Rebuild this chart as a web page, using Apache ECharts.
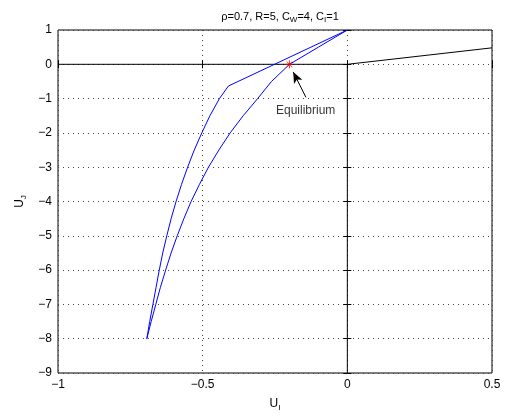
<!DOCTYPE html>
<html><head><meta charset="utf-8">
<script src="https://cdn.jsdelivr.net/npm/echarts@6/dist/echarts.min.js"></script>
<style>html,body{margin:0;padding:0;background:#fff}#c{width:508px;height:419px}</style>
</head><body><div id="c"></div>
<script>
// ---- data ----
var xTicks = [-1, -0.5, 0, 0.5];
var yTicks = [-9, -8, -7, -6, -5, -4, -3, -2, -1, 0, 1];
var outerCurve = [[0,1],[-0.411,-0.633],[-0.442,-1],[-0.475,-1.5],[-0.503,-2],[-0.529,-2.5],[-0.552,-3],[-0.573,-3.5],[-0.592,-4],[-0.609,-4.5],[-0.624,-5],[-0.638,-5.5],[-0.650,-6],[-0.661,-6.5],[-0.672,-7],[-0.683,-7.5],[-0.693,-8]];
var innerCurve = [[0,1],[-0.1,0.5],[-0.2,0],[-0.262,-0.5],[-0.31,-1],[-0.36,-1.5],[-0.405,-2],[-0.444,-2.5],[-0.48,-3],[-0.511,-3.5],[-0.54,-4],[-0.565,-4.5],[-0.588,-5],[-0.609,-5.5],[-0.628,-6],[-0.646,-6.5],[-0.662,-7],[-0.678,-7.5],[-0.693,-8]];
var hLine = [[-1,0],[0,0]];
var vLine = [[0,0],[0,-9]];
var rightLine = [[0,0],[0.5,0.48]];
var equilibrium = [[-0.2,0]];
var arrowTail = [-0.143,-0.963];
var arrowHead = [-0.187,-0.225];
var labelPos = [[-0.144,-1.34]];
var labelText = 'Equilibrium';

var FONT = 'Liberation Sans, Arial, Helvetica, sans-serif';
var chart = echarts.init(document.getElementById('c'), null, {renderer:'canvas'});
function axisBase(show){
  return {
    axisLine:{show:false},
    axisTick:{show:true, inside:true, length:4, lineStyle:{color:'#000'}},
    axisLabel:{show:show, color:'#000', fontSize:12, fontFamily:FONT,
      formatter:function(v){ return (v<0?'\u2212':'') + Math.abs(v); }},
    splitLine:{show:false}
  };
}
var nameRich = {a:{fontSize:12,fontFamily:FONT,color:'#000'}, s:{fontSize:8,fontFamily:FONT,color:'#000',verticalAlign:'bottom',padding:[8,0,0,0]}};
var x1 = Object.assign(axisBase(true), {type:'value', min:-1, max:0.5, interval:0.5, position:'bottom',
  name:'{a|U}{s|I}', nameLocation:'middle', nameGap:23,
  nameTextStyle:{rich:nameRich},
  splitLine:{show:true, lineStyle:{color:'#444', type:[1,4], width:1}}});
x1.axisLabel.margin = 6;
var x2 = Object.assign(axisBase(false), {type:'value', min:-1, max:0.5, interval:0.5, position:'top'});
var y1 = Object.assign(axisBase(true), {type:'value', min:-9, max:1, interval:1, position:'left',
  name:'{a|U}{s|J}', nameLocation:'middle', nameGap:30, nameRotate:90,
  nameTextStyle:{rich:nameRich},
  splitLine:{show:true, lineStyle:{color:'#444', type:[1,4], width:1}}});
y1.axisLabel.margin = 6;
var y2 = Object.assign(axisBase(false), {type:'value', min:-9, max:1, interval:1, position:'right'});

function lineSeries(data, color){
  return {type:'line', data:data, showSymbol:false, symbol:'none', animation:false, silent:true,
    lineStyle:{color:color, width:1}, xAxisIndex:0, yAxisIndex:0, z:3};
}
var option = {
  animation:false,
  title:{text:'{a|\u03c1=0.7, R=5, C}{s|W}{a|=4, C}{s|I}{a|=1}', left:275, top:4, textAlign:'center',
    textStyle:{fontWeight:'normal', rich:{a:{fontSize:11,fontFamily:FONT,color:'#000',fontWeight:'normal'}, s:{fontSize:8,fontFamily:FONT,color:'#000',fontWeight:'normal',verticalAlign:'bottom',padding:[7,0,0,0]}}}},
  grid:{left:58, right:16, top:30, bottom:46, show:true, borderColor:'#000', borderWidth:1, backgroundColor:'#fff'},
  xAxis:[x1, x2],
  yAxis:[y1, y2],
  series:[
    lineSeries(hLine,'#000'),
    lineSeries(vLine,'#000'),
    lineSeries(rightLine,'#000'),
    lineSeries(outerCurve,'#0000ff'),
    lineSeries(innerCurve,'#0000ff'),
    {type:'scatter', data:equilibrium, symbol:'path://M0,-5L0,5M-5,0L5,0M-3.5,-3.5L3.5,3.5M-3.5,3.5L3.5,-3.5',
      symbolSize:8, itemStyle:{color:'none', borderColor:'#ff0000', borderWidth:1}, z:5, silent:true},
    {type:'scatter', data:labelPos, symbol:'circle', symbolSize:1, silent:true, z:5,
      itemStyle:{color:'rgba(0,0,0,0)'},
      label:{show:true, position:'inside', formatter:labelText, color:'#000', fontSize:12, fontFamily:FONT},
      markLine:{silent:true, symbol:['none','arrow'], symbolSize:[7,11], label:{show:false},
        lineStyle:{color:'#000', width:1, type:'solid'},
        data:[[{coord:arrowTail},{coord:arrowHead}]]}}
  ]
};
chart.setOption(option);
</script></body></html>
